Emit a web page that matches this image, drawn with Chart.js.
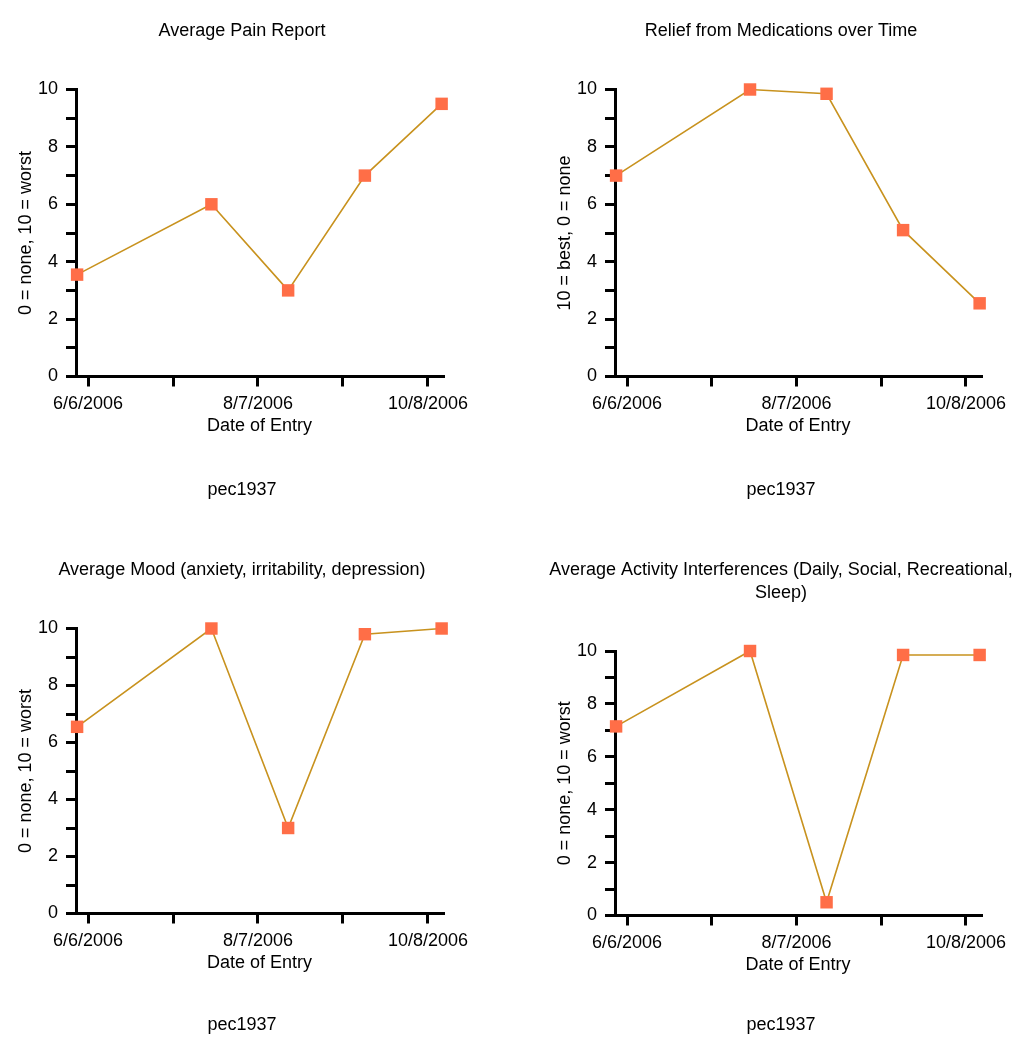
<!DOCTYPE html>
<html>
<head>
<meta charset="utf-8">
<script src="https://cdn.jsdelivr.net/npm/chart.js@4.4.0/dist/chart.umd.min.js"></script>
<style>
  html, body { margin: 0; padding: 0; background: #ffffff; overflow: hidden; }
  .panel { position: absolute; }
</style>
</head>
<body>
<div class="panel" style="left:0;top:0;width:539px;height:539px"><canvas id="pain"></canvas></div>
<div class="panel" style="left:539px;top:0;width:491px;height:539px"><canvas id="relief"></canvas></div>
<div class="panel" style="left:0;top:539px;width:539px;height:511px"><canvas id="mood"></canvas></div>
<div class="panel" style="left:539px;top:539px;width:491px;height:511px"><canvas id="activity"></canvas></div>
<script>
// entry dates shared by all four charts
const entryDates = ["6/2/2006", "7/21/2006", "8/18/2006", "9/15/2006", "10/13/2006"];

const painValues = [3.55, 6, 3, 7, 9.5];
const reliefValues = [7, 10, 9.85, 5.1, 2.55];
const moodValues = [6.55, 10, 3, 9.8, 10];
const activityValues = [7.15, 10, 0.5, 9.85, 9.85];

// x ticks: every other one carries a label
const xTickDates = ["6/6/2006", "7/7/2006", "8/7/2006", "9/7/2006", "10/8/2006"];
const xTickLabels = ["6/6/2006", "", "8/7/2006", "", "10/8/2006"];

const yTicks = [0, 1, 2, 3, 4, 5, 6, 7, 8, 9, 10];
const yTickLabels = ["0", "", "2", "", "4", "", "6", "", "8", "", "10"];

const subtitleText = "pec1937";
const xTitle = "Date of Entry";

const FONT = "'Liberation Sans', Arial, sans-serif";
const LINE_COLOR = "#c8921e";
const MARK_COLOR = "#ff6e47";

function toDay(str) {
  const p = str.split("/").map(Number);
  return Date.UTC(p[2], p[0] - 1, p[1]) / 86400000;
}

const xTickDays = xTickDates.map(toDay);
const entryDays = entryDates.map(toDay);

// titles in the original are centred on the panel, not on the chart area
const centerTitles = {
  id: "centerTitles",
  afterLayout(chart, args, opts) {
    chart.boxes.forEach((box) => {
      if (box.axis) return;
      if (box.position === "top" || box.position === "bottom") {
        box.left = 0;
        box.right = opts.width;
        box.width = opts.width;
      }
    });
  }
};

function makeChart(id, title, yTitle, values, padRight, subPadTop, subPadBottom) {
  const ctx = document.getElementById(id).getContext("2d");
  return new Chart(ctx, {
    type: "line",
    plugins: [centerTitles],
    data: {
      datasets: [{
        data: entryDays.map((d, i) => ({ x: d, y: values[i] })),
        borderColor: LINE_COLOR,
        borderWidth: 1.6,
        backgroundColor: MARK_COLOR,
        pointStyle: "rect",
        pointRadius: 8.8,
        pointBorderWidth: 0,
        pointBackgroundColor: MARK_COLOR,
        tension: 0,
        clip: false
      }]
    },
    options: {
      responsive: true,
      maintainAspectRatio: false,
      animation: false,
      layout: { padding: { left: 0, right: padRight, top: 0, bottom: 0 } },
      plugins: {
        legend: { display: false },
        tooltip: { enabled: false },
        centerTitles: { width: 484 },
        title: {
          display: true,
          text: title,
          color: "#000000",
          font: { family: FONT, size: 18, weight: "normal", lineHeight: 1.25 },
          padding: { top: 20, bottom: 47 }
        },
        subtitle: {
          display: true,
          position: "bottom",
          text: subtitleText,
          color: "#000000",
          font: { family: FONT, size: 18, weight: "normal", lineHeight: 1.25 },
          padding: { top: subPadTop, bottom: subPadBottom }
        }
      },
      scales: {
        x: {
          type: "linear",
          min: xTickDays[0] - 4.4,
          max: xTickDays[xTickDays.length - 1] + 5.5,
          afterBuildTicks: (scale) => {
            scale.ticks = xTickDays.map((v) => ({ value: v }));
          },
          afterFit: (scale) => { scale.height = 60; },
          ticks: {
            autoSkip: false,
            maxRotation: 0,
            color: "#000000",
            padding: 7,
            font: { family: FONT, size: 18, lineHeight: 1.2 },
            callback: (v) => xTickLabels[xTickDays.indexOf(v)] || ""
          },
          grid: {
            drawOnChartArea: false,
            drawTicks: true,
            tickLength: 10,
            color: "#000000",
            lineWidth: 3
          },
          border: { display: true, color: "#000000", width: 3 },
          title: {
            display: true,
            text: xTitle,
            color: "#000000",
            font: { family: FONT, size: 18, lineHeight: 1.2 },
            padding: { top: 0, bottom: 0 }
          }
        },
        y: {
          min: 0,
          max: 10,
          afterBuildTicks: (scale) => {
            scale.ticks = yTicks.map((v) => ({ value: v }));
          },
          afterFit: (scale) => { scale.width = 76; },
          ticks: {
            autoSkip: false,
            color: "#000000",
            padding: 8,
            font: { family: FONT, size: 18, lineHeight: 1.2 },
            callback: (v) => yTickLabels[yTicks.indexOf(v)]
          },
          grid: {
            drawOnChartArea: false,
            drawTicks: true,
            tickLength: 10,
            color: "#000000",
            lineWidth: 3
          },
          border: { display: true, color: "#000000", width: 3 },
          title: {
            display: true,
            text: yTitle,
            color: "#000000",
            font: { family: FONT, size: 18, lineHeight: 1.2 },
            padding: { top: 15, bottom: 4 }
          }
        }
      }
    }
  });
}

makeChart("pain", "Average Pain Report", "0 = none, 10 = worst", painValues, 96, 42, 38);
makeChart("relief", "Relief from Medications over Time", "10 = best, 0 = none", reliefValues, 49, 42, 38);
makeChart("mood", "Average Mood (anxiety, irritability, depression)", "0 = none, 10 = worst", moodValues, 96, 40, 14);
makeChart("activity", ["Average Activity Interferences (Daily, Social, Recreational,", "Sleep)"], "0 = none, 10 = worst", activityValues, 49, 38, 14);
</script>
</body>
</html>
